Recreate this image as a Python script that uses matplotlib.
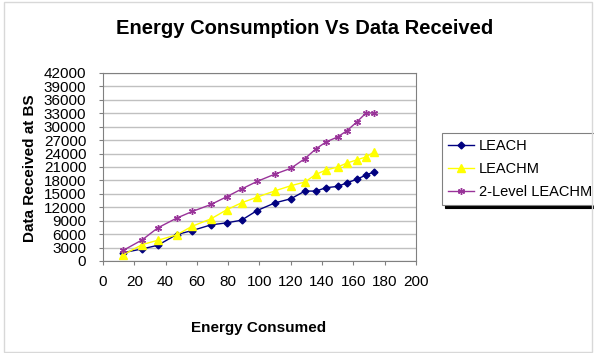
import numpy as np
import matplotlib.pyplot as plt
from matplotlib.patches import Rectangle

plt.rcParams['font.family'] = ['Liberation Sans', 'DejaVu Sans']

#data
energy = [13, 25, 35, 47, 57, 69, 79, 88.5, 98.5, 110, 120, 129, 136, 142.5, 150, 156, 162, 168, 173]
leach = [1870, 2690, 3510, 5900, 6800, 8070, 8520, 9120, 11280, 13000, 13900,
         15620, 15620, 16370, 16670, 17490, 18230, 19200, 19880]
leachm = [1420, 3660, 4630, 5830, 7770, 9420, 11430, 13000, 14270, 15690, 16810,
          17640, 19350, 20330, 21000, 21900, 22570, 23240, 24290]
leachm2 = [2390, 4710, 7400, 9570, 11060, 12630, 14350, 16070, 17790, 19430, 20700,
           22870, 25030, 26600, 27720, 29140, 31010, 33030, 33100]
yticks = np.arange(0, 42001, 3000)
xticks = np.arange(0, 201, 20)

fig = plt.figure(figsize=(5.94, 3.53), dpi=100)
ax = fig.add_axes([103/594, 1-261/353, (416-103)/594, (261-73)/353])

#light border round the whole chart
fig.patches.append(Rectangle((4/594, 1/353), 1-6/594, 1-3/353, transform=fig.transFigure,
                             fill=False, edgecolor='#d8d8d8', lw=1))

ax.plot(energy, leach, color='#000080', marker='D', ms=3.5, lw=1, label='LEACH')
ax.plot(energy, leachm, color='#ffff00', marker='^', ms=5.5, lw=1, label='LEACHM')
ax.plot(energy, leachm2, color='#993399', marker=(6, 2, 0), ms=5, mew=1, lw=1,
        label='2-Level LEACHM')

ax.set_xlim(0, 200)
ax.set_ylim(0, 42000)
ax.set_xticks(xticks)
ax.set_yticks(yticks)
ax.tick_params(labelsize=11, length=3, color='#808080', pad=2)
ax.tick_params(axis='x', pad=7)
ax.tick_params(axis='y', pad=9)
ax.yaxis.grid(True, color='#c0c0c0', lw=1)
ax.set_axisbelow(True)
for s in ax.spines.values():
    s.set_color('#808080')

fig.text(305/594, 1-28/353, 'Energy Consumption Vs Data Received', ha='center', va='center',
         fontsize=14.5, fontweight='bold')
fig.text(259/594, 1-328/353, 'Energy Consumed', ha='center', va='center',
         fontsize=11, fontweight='bold')
fig.text(30/594, 1-168/353, 'Data Received at BS', ha='center', va='center',
         rotation=90, fontsize=11, fontweight='bold')

leg = ax.legend(loc='upper left', bbox_to_anchor=(442/594, 1-133/353),
                bbox_transform=fig.transFigure, fontsize=10.5, frameon=True,
                fancybox=False, edgecolor='#808080', borderpad=0.4, borderaxespad=0,
                handlelength=1.8, handletextpad=0.35, labelspacing=0.62,
                shadow={'color': 'black', 'alpha': 1})
leg.get_frame().set_linewidth(0.8)

fig.savefig('out.png', dpi=100)
